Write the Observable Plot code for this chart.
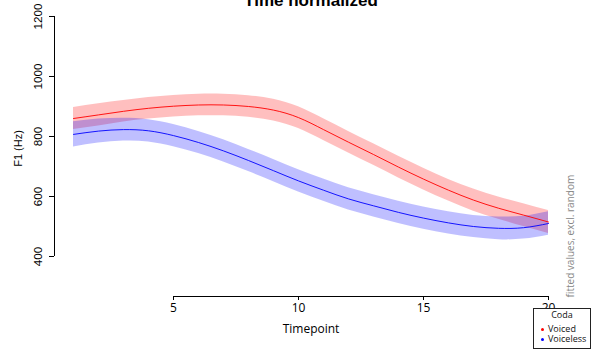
<!DOCTYPE html>
<html><head><meta charset="utf-8">
<script src="https://cdn.jsdelivr.net/npm/d3@7"></script>
<script src="https://cdn.jsdelivr.net/npm/@observablehq/plot@0.6"></script>
<style>
body{margin:0;background:#fff;}
#wrap{position:relative;width:594px;height:349px;overflow:hidden;}
#legend{position:absolute;left:533px;top:308px;width:56px;height:39px;border:1px solid #222;background:#fff;font-family:"Open Sans",sans-serif;font-size:9px;color:#111;}
#legend div{position:absolute;white-space:nowrap;line-height:10px;}
.dot{display:inline-block;width:3px;height:3px;border-radius:50%;}
</style></head><body><div id="wrap"></div><script>
const timepoints = [1,2,3,4,5,6,7,8,9,10,11,12,13,14,15,16,17,18,19,20];
const voicedFit = [860,872,884,894,901,905,905,900,888,863,823,781,740,698,658,621,588,561,538,515];
const voicedCI = [37,37,36,36,36,36,36,36,36,36,36,36,36,36,36,36,37,37,38,38];
const voicelessFit = [807,818,823,819,803,780,752,720,686,652,621,592,569,547,528,512,500,494,496,510];
const voicelessCI = [42,40,38,37,37,37,37,37,37,37,37,37,37,37,37,37,37,38,38,39];
const seriesNames = ["Voiced", "Voiceless"];
const seriesColors = ["red", "blue"];
const xTicks = [5, 10, 15, 20];
const yTicks = [400, 600, 800, 1000, 1200];
const titleText = "Time normalized";
const xLabel = "Timepoint";
const yLabel = "F1 (Hz)";
const sideNote = "fitted values, excl. random";
const legendTitle = "Coda";

const series = [voicedFit, voicelessFit];
const cis = [voicedCI, voicelessCI];
const data = [];
series.forEach((vals, s) => vals.forEach((v, i) => data.push({
  t: timepoints[i], fit: v, lo: v - cis[s][i], hi: v + cis[s][i], group: seriesNames[s]
})));

const tMin = d3.min(timepoints), tMax = d3.max(timepoints);
const pad = 0.04 * (tMax - tMin);
const xDomain = [tMin - pad, tMax + pad];
const yDomain = [266.7, 1253.3];

const yFont = "Liberation Sans";
const xFont = "Open Sans";

const marks = [];
seriesNames.forEach((g, s) => {
  marks.push(Plot.areaY(data.filter(d => d.group === g), {x: "t", y1: "lo", y2: "hi", fill: seriesColors[s], fillOpacity: 0.25, curve: "natural"}));
});
seriesNames.forEach((g, s) => {
  marks.push(Plot.line(data.filter(d => d.group === g), {x: "t", y: "fit", stroke: seriesColors[s], strokeWidth: 0.9, curve: "natural"}));
});

marks.push(
  Plot.ruleX([xDomain[0]], {y1: d3.min(yTicks), y2: d3.max(yTicks), stroke: "black", strokeWidth: 1}),
  Plot.ruleY([yDomain[0]], {x1: d3.min(xTicks), x2: d3.max(xTicks), stroke: "black", strokeWidth: 1}),
  Plot.axisY({ticks: yTicks, tickSize: 5, tickFormat: () => "", label: null, stroke: "black"}),
  Plot.axisX({ticks: xTicks, tickSize: 4, tickFormat: () => "", label: null, stroke: "black"}),
  Plot.text(yTicks, {y: d => d, frameAnchor: "left", textAnchor: "middle", rotate: -90, dx: -16, text: d => String(d), fontFamily: yFont, fontSize: 11.7, fill: "black"}),
  Plot.text([yLabel], {frameAnchor: "left", textAnchor: "middle", rotate: -90, dx: -36, text: d => d, fontFamily: yFont, fontSize: 11, fill: "black"}),
  Plot.text(xTicks, {x: d => d, frameAnchor: "bottom", dy: 15, text: d => String(d), fontFamily: xFont, fontSize: 12, fill: "black"}),
  Plot.text([xLabel], {frameAnchor: "bottom", dy: 36, text: d => d, fontFamily: xFont, fontSize: 12, fill: "black"}),
  Plot.text([sideNote], {frameAnchor: "bottom-right", rotate: -90, textAnchor: "start", dx: 6, dy: 1, text: d => d, fontFamily: xFont, fontSize: 10, fill: "#888"}),
  Plot.text([titleText], {frameAnchor: "top", lineAnchor: "bottom", dy: 5, text: d => d, fontFamily: yFont, fontSize: 17, fontWeight: "bold", fill: "black"})
);

const chart = Plot.plot({
  width: 594, height: 349,
  marginLeft: 54, marginRight: 27, marginTop: 0, marginBottom: 53,
  x: {domain: xDomain, axis: null},
  y: {domain: yDomain, axis: null},
  style: {background: "white", overflow: "visible"},
  marks
});
const wrap = document.getElementById("wrap");
wrap.appendChild(chart);

const legend = document.createElement("div");
legend.id = "legend";
const t = document.createElement("div");
t.textContent = legendTitle;
t.style.left = "0px"; t.style.width = "56px"; t.style.textAlign = "center"; t.style.top = "1px";
legend.appendChild(t);
seriesNames.forEach((g, s) => {
  const row = document.createElement("div");
  row.style.left = "7px"; row.style.top = (15 + s * 10) + "px";
  const dot = document.createElement("span");
  dot.className = "dot"; dot.style.background = seriesColors[s];
  dot.style.marginRight = "4px"; dot.style.verticalAlign = "middle";
  row.appendChild(dot);
  row.appendChild(document.createTextNode(g));
  legend.appendChild(row);
});
wrap.appendChild(legend);
</script></body></html>
